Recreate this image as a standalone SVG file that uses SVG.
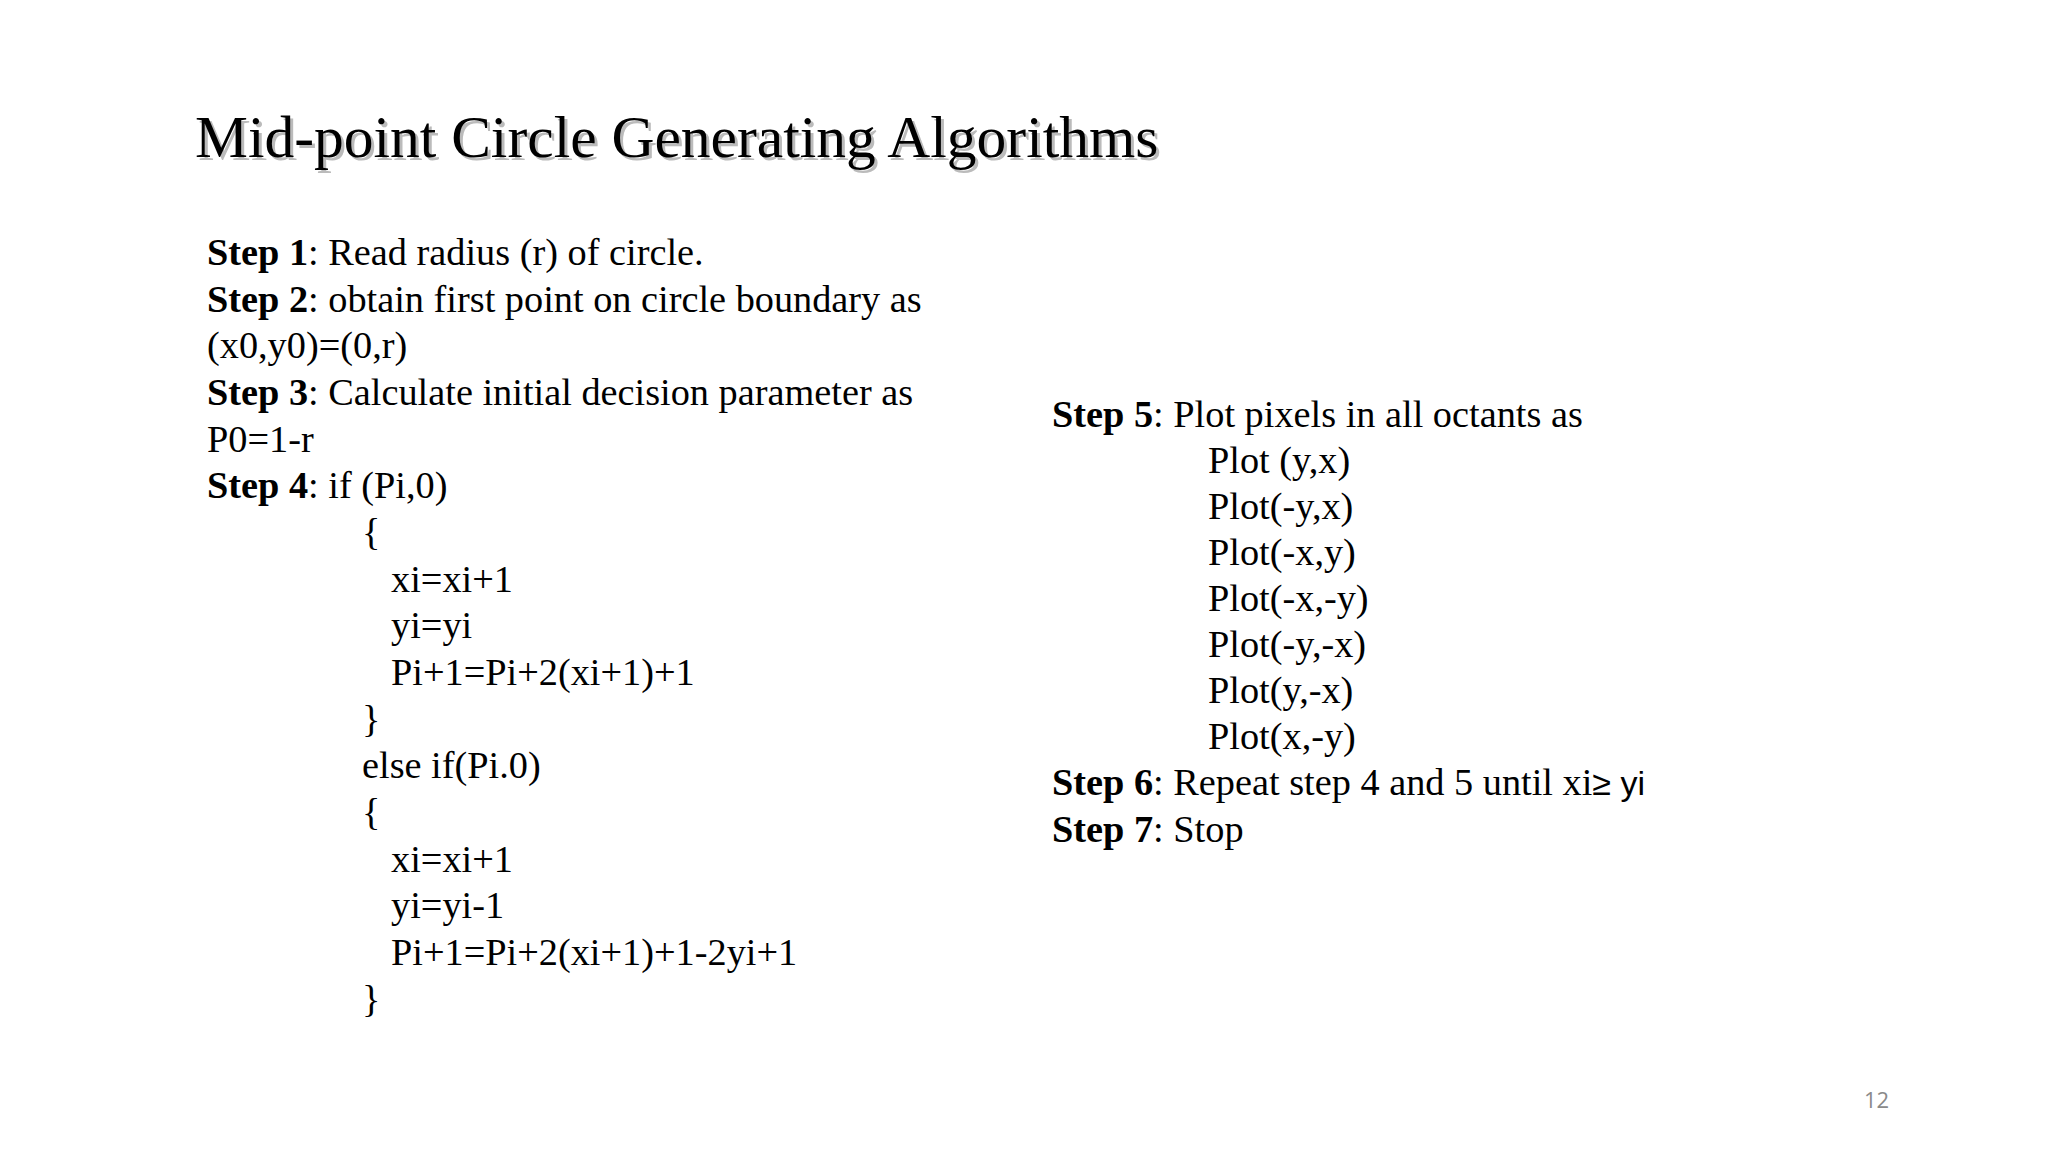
<svg xmlns="http://www.w3.org/2000/svg" width="2048" height="1152" viewBox="0 0 2048 1152">
<style>
.t{font-family:"Liberation Serif",serif;font-size:59.5px;fill:#000}
.sh{font-family:"Liberation Serif",serif;font-size:59.5px;fill:#bbbbbb}
.b{font-family:"Liberation Serif",serif;font-size:38.3px;fill:#000}
.s{font-family:"Liberation Sans",sans-serif}
.pn{font-family:"Open Sans",sans-serif;font-size:22px;fill:#8a8a8a}
</style>
<rect width="2048" height="1152" fill="#fff"/>
<g id="title">
<text class="sh" x="198" y="160">Mid-point Circle Generating Algorithms</text>
<text class="t" x="195" y="157">Mid-point Circle Generating Algorithms</text>
</g>
<g id="left" class="b">
<text x="207" y="265"><tspan font-weight="bold">Step 1</tspan>: Read radius (r) of circle.</text>
<text x="207" y="312"><tspan font-weight="bold">Step 2</tspan>: obtain first point on circle boundary as</text>
<text x="207" y="358">(x0,y0)=(0,r)</text>
<text x="207" y="405"><tspan font-weight="bold">Step 3</tspan>: Calculate initial decision parameter as</text>
<text x="207" y="452">P0=1-r</text>
<text x="207" y="498"><tspan font-weight="bold">Step 4</tspan>: if (Pi,0)</text>
<text x="362" y="545">{</text>
<text x="391" y="592">xi=xi+1</text>
<text x="391" y="638">yi=yi</text>
<text x="391" y="685">Pi+1=Pi+2(xi+1)+1</text>
<text x="362" y="732">}</text>
<text x="362" y="778">else if(Pi.0)</text>
<text x="362" y="825">{</text>
<text x="391" y="872">xi=xi+1</text>
<text x="391" y="918">yi=yi-1</text>
<text x="391" y="965">Pi+1=Pi+2(xi+1)+1-2yi+1</text>
<text x="362" y="1012">}</text>
</g>
<g id="right" class="b">
<text x="1052" y="427"><tspan font-weight="bold">Step 5</tspan>: Plot pixels in all octants as</text>
<text x="1208" y="473">Plot (y,x)</text>
<text x="1208" y="519">Plot(-y,x)</text>
<text x="1208" y="565">Plot(-x,y)</text>
<text x="1208" y="611">Plot(-x,-y)</text>
<text x="1208" y="657">Plot(-y,-x)</text>
<text x="1208" y="703">Plot(y,-x)</text>
<text x="1208" y="749">Plot(x,-y)</text>
<text x="1052" y="795"><tspan font-weight="bold">Step 6</tspan>: Repeat step 4 and 5 until xi<tspan class="s" font-size="34">≥ yi</tspan></text>
<text x="1052" y="842"><tspan font-weight="bold">Step 7</tspan>: Stop</text>
</g>
<g id="page"><text class="pn" x="1864" y="1108">12</text></g>
</svg>
